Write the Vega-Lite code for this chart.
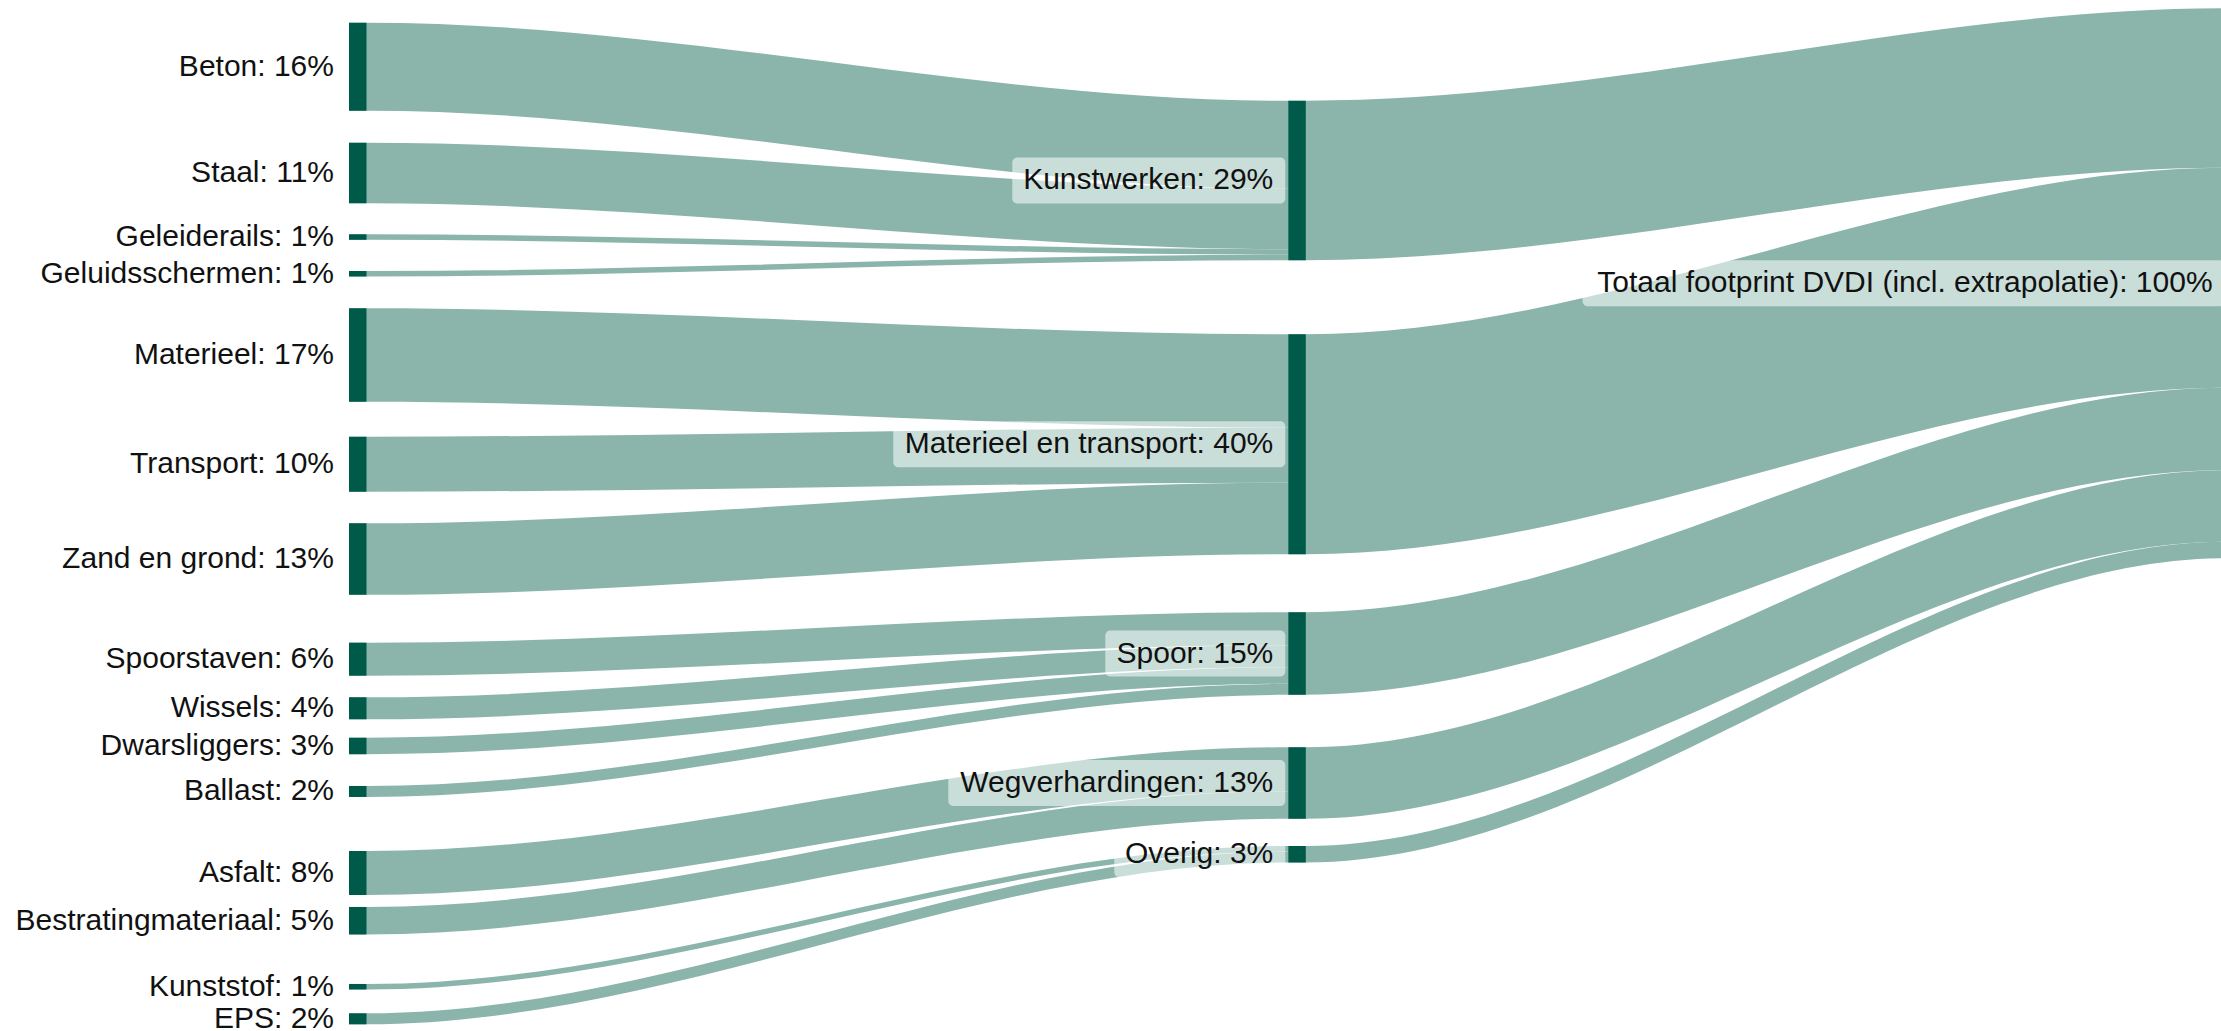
{
  "$schema": "https://vega.github.io/schema/vega-lite/v6.json",
  "width": 2221,
  "height": 1031,
  "padding": 0,
  "autosize": {"type": "none"},
  "background": "#ffffff",
  "config": {"view": {"stroke": null}, "font": "Liberation Sans"},
  "data": {
    "values": [
      {"stage": 0, "source": "Beton", "target": "Kunstwerken", "value": 16, "gap": 4.13},
      {"stage": 0, "source": "Staal", "target": "Kunstwerken", "value": 11, "gap": 5.82},
      {"stage": 0, "source": "Geleiderails", "target": "Kunstwerken", "value": 1, "gap": 5.65},
      {"stage": 0, "source": "Geluidsschermen", "target": "Kunstwerken", "value": 1, "gap": 5.67},
      {"stage": 0, "source": "Materieel", "target": "Materieel en transport", "value": 17, "gap": 5.78},
      {"stage": 0, "source": "Transport", "target": "Materieel en transport", "value": 10, "gap": 6.35},
      {"stage": 0, "source": "Zand en grond", "target": "Materieel en transport", "value": 13, "gap": 5.75},
      {"stage": 0, "source": "Spoorstaven", "target": "Spoor", "value": 6, "gap": 8.7},
      {"stage": 0, "source": "Wissels", "target": "Spoor", "value": 4, "gap": 3.93},
      {"stage": 0, "source": "Dwarsliggers", "target": "Spoor", "value": 3, "gap": 3.35},
      {"stage": 0, "source": "Ballast", "target": "Spoor", "value": 2, "gap": 5.77},
      {"stage": 0, "source": "Asfalt", "target": "Wegverhardingen", "value": 8, "gap": 9.83},
      {"stage": 0, "source": "Bestratingmateriaal", "target": "Wegverhardingen", "value": 5, "gap": 2.17},
      {"stage": 0, "source": "Kunststof", "target": "Overig", "value": 1, "gap": 9.0},
      {"stage": 0, "source": "EPS", "target": "Overig", "value": 2, "gap": 4.34},
      {"stage": 1, "source": "Kunstwerken", "target": "Totaal footprint DVDI (incl. extrapolatie)", "value": 29, "gap": 18.31},
      {"stage": 1, "source": "Materieel en transport", "target": "Totaal footprint DVDI (incl. extrapolatie)", "value": 40, "gap": 13.47},
      {"stage": 1, "source": "Spoor", "target": "Totaal footprint DVDI (incl. extrapolatie)", "value": 15, "gap": 10.55},
      {"stage": 1, "source": "Wegverhardingen", "target": "Totaal footprint DVDI (incl. extrapolatie)", "value": 13, "gap": 9.54},
      {"stage": 1, "source": "Overig", "target": "Totaal footprint DVDI (incl. extrapolatie)", "value": 3, "gap": 4.95},
      {"stage": 2, "source": "Totaal footprint DVDI (incl. extrapolatie)", "target": null, "value": 100, "gap": 1.51}
    ]
  },
  "transform": [
    {"calculate": "datum.gap + datum.value", "as": "gv"},
    {"window": [{"op": "sum", "field": "gv", "as": "cum"}], "groupby": ["stage"], "frame": [null, 0]},
    {"calculate": "datum.cum - datum.value", "as": "top"},
    {"calculate": "datum.top + datum.value / 2", "as": "center"},
    {"calculate": "datum.source + ': ' + datum.value + '%'", "as": "label"}
  ],
  "layer": [
    {
      "transform": [
        {"calculate": "datum.stage == 0 ? datum.target : datum.source", "as": "mid"},
        {"calculate": "datum.stage == 1 ? datum.top : null", "as": "mtop"},
        {"calculate": "datum.stage == 2 ? datum.top : null", "as": "ttopc"},
        {"joinaggregate": [{"op": "max", "field": "mtop", "as": "midTop"}], "groupby": ["mid"]},
        {"joinaggregate": [{"op": "max", "field": "ttopc", "as": "totTop"}]},
        {"filter": "datum.stage < 2"},
        {"window": [{"op": "sum", "field": "value", "as": "tcum"}], "groupby": ["target"], "sort": [{"field": "top", "order": "ascending"}], "frame": [null, 0]},
        {"calculate": "(datum.stage == 0 ? datum.midTop : datum.totTop) + datum.tcum - datum.value", "as": "ty"},
        {"calculate": "datum.top", "as": "a0"},
        {"calculate": "datum.top", "as": "a1"},
        {"calculate": "datum.ty", "as": "a2"},
        {"calculate": "datum.ty", "as": "a3"},
        {"fold": ["a0", "a1", "a2", "a3"], "as": ["k", "yt"]},
        {"calculate": "datum.stage + (datum.k == 'a0' ? 0 : datum.k == 'a1' ? 0.0186 : datum.k == 'a2' ? 0.998 : 1)", "as": "ax"},
        {"calculate": "datum.yt + datum.value", "as": "yb"}
      ],
      "mark": {"type": "area", "interpolate": "monotone", "color": "#8bb5ab", "opacity": 1},
      "encoding": {
        "x": {"field": "ax", "type": "quantitative", "scale": {"domain": [-0.37155, 1.99298], "zero": false, "nice": false}, "axis": null},
        "y": {"field": "yt", "type": "quantitative", "scale": {"domain": [0, 187.4545], "reverse": true, "zero": false, "nice": false}, "axis": null},
        "y2": {"field": "yb"},
        "detail": {"field": "source"}
      }
    },
    {
      "transform": [{"filter": "datum.source == 'Kunstwerken'"}],
      "mark": {"type": "rect", "fill": "#ffffff", "fillOpacity": 0.55, "cornerRadius": 5, "xOffset": -276, "x2Offset": -3, "yOffset": -23, "y2Offset": 23},
      "encoding": {
        "x": {"field": "stage", "type": "quantitative", "scale": {"domain": [-0.37155, 1.99298], "zero": false, "nice": false}, "axis": null},
        "x2": {"field": "stage"},
        "y": {"field": "center", "type": "quantitative", "scale": {"domain": [0, 187.4545], "reverse": true, "zero": false, "nice": false}, "axis": null},
        "y2": {"field": "center"}
      }
    },
    {
      "transform": [{"filter": "datum.source == 'Materieel en transport'"}],
      "mark": {"type": "rect", "fill": "#ffffff", "fillOpacity": 0.55, "cornerRadius": 5, "xOffset": -395, "x2Offset": -3, "yOffset": -23, "y2Offset": 23},
      "encoding": {
        "x": {"field": "stage", "type": "quantitative", "scale": {"domain": [-0.37155, 1.99298], "zero": false, "nice": false}, "axis": null},
        "x2": {"field": "stage"},
        "y": {"field": "center", "type": "quantitative", "scale": {"domain": [0, 187.4545], "reverse": true, "zero": false, "nice": false}, "axis": null},
        "y2": {"field": "center"}
      }
    },
    {
      "transform": [{"filter": "datum.source == 'Spoor'"}],
      "mark": {"type": "rect", "fill": "#ffffff", "fillOpacity": 0.55, "cornerRadius": 5, "xOffset": -183, "x2Offset": -3, "yOffset": -23, "y2Offset": 23},
      "encoding": {
        "x": {"field": "stage", "type": "quantitative", "scale": {"domain": [-0.37155, 1.99298], "zero": false, "nice": false}, "axis": null},
        "x2": {"field": "stage"},
        "y": {"field": "center", "type": "quantitative", "scale": {"domain": [0, 187.4545], "reverse": true, "zero": false, "nice": false}, "axis": null},
        "y2": {"field": "center"}
      }
    },
    {
      "transform": [{"filter": "datum.source == 'Wegverhardingen'"}],
      "mark": {"type": "rect", "fill": "#ffffff", "fillOpacity": 0.55, "cornerRadius": 5, "xOffset": -340, "x2Offset": -3, "yOffset": -23, "y2Offset": 23},
      "encoding": {
        "x": {"field": "stage", "type": "quantitative", "scale": {"domain": [-0.37155, 1.99298], "zero": false, "nice": false}, "axis": null},
        "x2": {"field": "stage"},
        "y": {"field": "center", "type": "quantitative", "scale": {"domain": [0, 187.4545], "reverse": true, "zero": false, "nice": false}, "axis": null},
        "y2": {"field": "center"}
      }
    },
    {
      "transform": [{"filter": "datum.source == 'Overig'"}],
      "mark": {"type": "rect", "fill": "#ffffff", "fillOpacity": 0.55, "cornerRadius": 5, "xOffset": -174, "x2Offset": -3, "yOffset": -23, "y2Offset": 23},
      "encoding": {
        "x": {"field": "stage", "type": "quantitative", "scale": {"domain": [-0.37155, 1.99298], "zero": false, "nice": false}, "axis": null},
        "x2": {"field": "stage"},
        "y": {"field": "center", "type": "quantitative", "scale": {"domain": [0, 187.4545], "reverse": true, "zero": false, "nice": false}, "axis": null},
        "y2": {"field": "center"}
      }
    },
    {
      "transform": [{"filter": "datum.stage == 2"}],
      "mark": {"type": "rect", "fill": "#ffffff", "fillOpacity": 0.55, "cornerRadius": 5, "xOffset": -645, "x2Offset": -3, "yOffset": -23, "y2Offset": 23},
      "encoding": {
        "x": {"field": "stage", "type": "quantitative", "scale": {"domain": [-0.37155, 1.99298], "zero": false, "nice": false}, "axis": null},
        "x2": {"field": "stage"},
        "y": {"field": "center", "type": "quantitative", "scale": {"domain": [0, 187.4545], "reverse": true, "zero": false, "nice": false}, "axis": null},
        "y2": {"field": "center"}
      }
    },
    {
      "mark": {"type": "rect", "color": "#005a49", "x2Offset": 17.5},
      "encoding": {
        "x": {"field": "stage", "type": "quantitative", "scale": {"domain": [-0.37155, 1.99298], "zero": false, "nice": false}, "axis": null},
        "x2": {"field": "stage"},
        "y": {"field": "top", "type": "quantitative", "scale": {"domain": [0, 187.4545], "reverse": true, "zero": false, "nice": false}, "axis": null},
        "y2": {"field": "cum"}
      }
    },
    {
      "mark": {"type": "text", "align": "right", "baseline": "middle", "dx": -15, "fontSize": 30, "font": "Liberation Sans", "color": "#111111"},
      "encoding": {
        "x": {"field": "stage", "type": "quantitative", "scale": {"domain": [-0.37155, 1.99298], "zero": false, "nice": false}, "axis": null},
        "y": {"field": "center", "type": "quantitative", "scale": {"domain": [0, 187.4545], "reverse": true, "zero": false, "nice": false}, "axis": null},
        "text": {"field": "label"}
      }
    }
  ]
}
